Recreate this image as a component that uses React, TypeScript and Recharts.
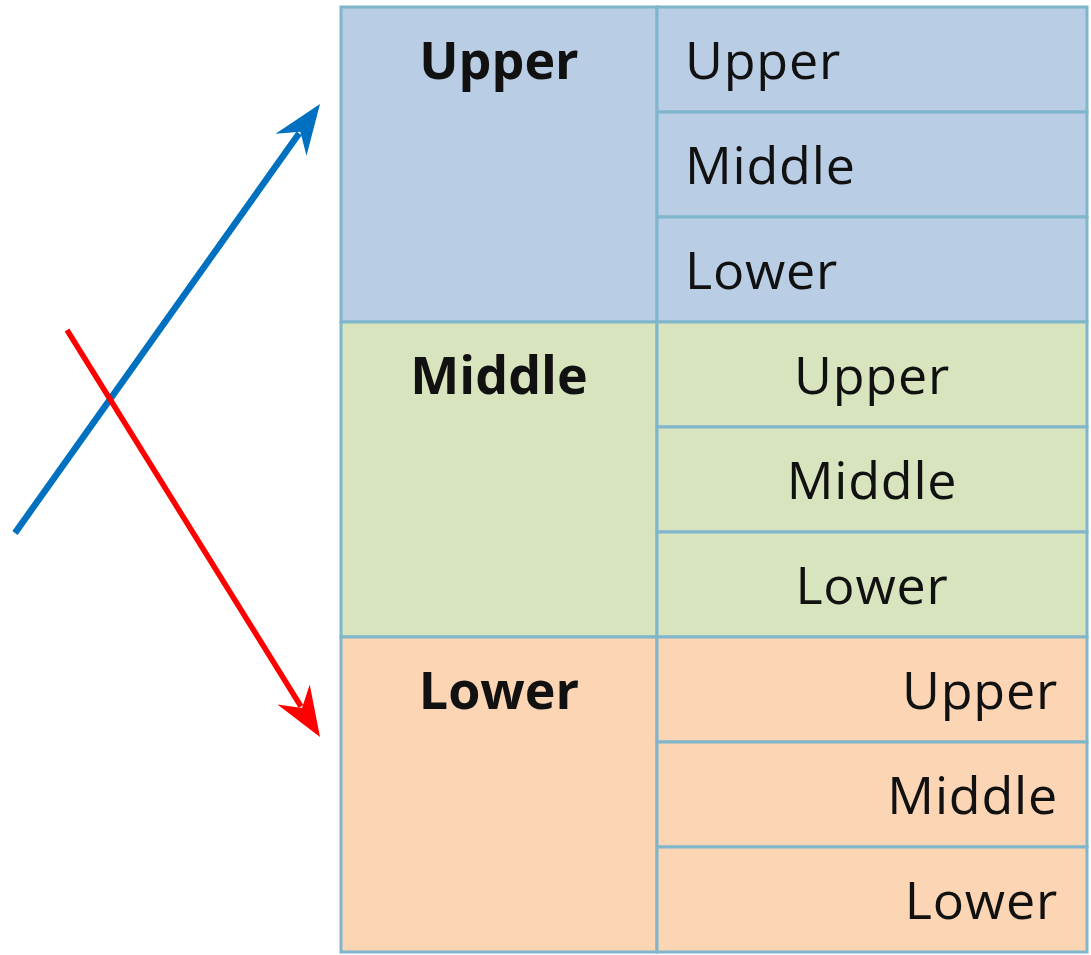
import React from "react";
import {
  ComposedChart,
  XAxis,
  YAxis,
  ReferenceArea,
  ReferenceLine,
  Scatter,
} from "recharts";

// Row groups and the sub-levels inside each one
const groups = ["Upper", "Middle", "Lower"];
const subLevels = ["Upper", "Middle", "Lower"];
// how the sub-level labels sit in each group
const subAlign = ["start", "middle", "end"];
const groupColors = ["#b9cde5", "#d7e4bd", "#fcd5b5"];

// the two arrows: start point and tip, in layout units
const blueArrow = [{ x: 15, y: 533 }, { x: 320, y: 104 }];
const redArrow = [{ x: 67, y: 330 }, { x: 320, y: 737 }];

const W = 1091;
const H = 955;
const COL0 = 341;
const COL1 = 657;
const COL2 = 1087;
const TOP = 7;
const ROW_H = 105;
const BASE = 72;
const BORDER = "#7fb6cb";
const FONT = "'Open Sans', 'DejaVu Sans', sans-serif";

const labelX: Record<string, number> = { start: 685, middle: 872, end: 1058 };

const labels = [
  ...groups.map((g, gi) => ({
    x: (COL0 + COL1) / 2,
    y: TOP + gi * 3 * ROW_H + BASE,
    text: g,
    bold: true,
    anchor: "middle",
  })),
  ...groups.flatMap((_, gi) =>
    subLevels.map((s, si) => ({
      x: labelX[subAlign[gi]],
      y: TOP + (gi * 3 + si) * ROW_H + BASE,
      text: s,
      bold: false,
      anchor: subAlign[gi],
    }))
  ),
];

const LabelShape = (props: any) => {
  const { cx, cy, payload } = props;
  return (
    <text
      x={cx}
      y={cy}
      textAnchor={payload.anchor}
      fontFamily={FONT}
      fontSize={52}
      fontWeight={payload.bold ? 700 : 400}
      letterSpacing={payload.bold ? 0 : 0.8}
      fill="#111"
    >
      {payload.text}
    </text>
  );
};

const arrowShape = (color: string, width: number) => (props: any) => {
  const { x1, y1, x2, y2 } = props;
  const dx = x2 - x1;
  const dy = y2 - y1;
  const len = Math.sqrt(dx * dx + dy * dy);
  const ux = dx / len;
  const uy = dy / len;
  const nx = -uy;
  const ny = ux;
  const headLen = 50;
  const half = 19;
  const notch = 34;
  const bx = x2 - ux * headLen;
  const by = y2 - uy * headLen;
  const pts = [
    [x2, y2],
    [bx + nx * half, by + ny * half],
    [x2 - ux * notch, y2 - uy * notch],
    [bx - nx * half, by - ny * half],
  ]
    .map((p) => p.join(","))
    .join(" ");
  return (
    <g>
      <line
        x1={x1}
        y1={y1}
        x2={x2 - ux * (notch + 2)}
        y2={y2 - uy * (notch + 2)}
        stroke={color}
        strokeWidth={width}
      />
      <polygon points={pts} fill={color} />
    </g>
  );
};

export default function App() {
  return (
    <div style={{ position: "absolute", left: 0, top: 0, background: "#fff" }}>
      <ComposedChart
        width={W}
        height={H}
        margin={{ top: 0, right: 0, bottom: 0, left: 0 }}
      >
        <XAxis type="number" dataKey="x" domain={[0, W]} hide allowDataOverflow />
        <YAxis type="number" dataKey="y" domain={[0, H]} reversed hide allowDataOverflow />

        {groups.map((g, gi) => (
          <ReferenceArea
            key={`g-${gi}`}
            x1={COL0}
            x2={COL1}
            y1={TOP + gi * 3 * ROW_H}
            y2={TOP + (gi + 1) * 3 * ROW_H}
            fill={groupColors[gi]}
            fillOpacity={1}
            stroke={BORDER}
            strokeWidth={3}
            ifOverflow="visible"
          />
        ))}
        {groups.flatMap((_, gi) =>
          subLevels.map((s, si) => (
            <ReferenceArea
              key={`s-${gi}-${si}`}
              x1={COL1}
              x2={COL2}
              y1={TOP + (gi * 3 + si) * ROW_H}
              y2={TOP + (gi * 3 + si + 1) * ROW_H}
              fill={groupColors[gi]}
              fillOpacity={1}
              stroke={BORDER}
              strokeWidth={3}
              ifOverflow="visible"
            />
          ))
        )}

        <Scatter
          data={labels}
          dataKey="y"
          shape={LabelShape}
          isAnimationActive={false}
        />

        <ReferenceLine
          segment={blueArrow}
          stroke="#0070c0"
          ifOverflow="visible"
          shape={arrowShape("#0070c0", 6.5)}
        />
        <ReferenceLine
          segment={redArrow}
          stroke="#ff0000"
          ifOverflow="visible"
          shape={arrowShape("#ff0000", 5.5)}
        />
      </ComposedChart>
    </div>
  );
}
